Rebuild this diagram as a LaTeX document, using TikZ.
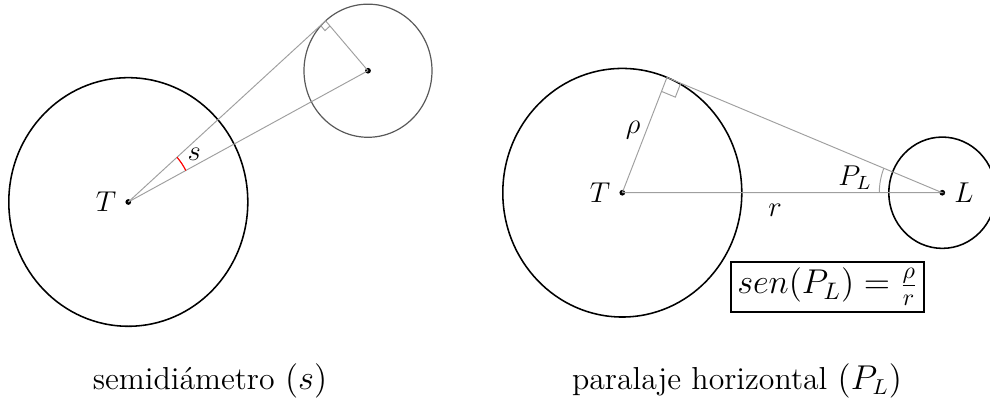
\documentclass[tikz,border=0pt]{standalone}
\usepackage{amsmath,amssymb}
\usetikzlibrary{calc,positioning}

\begin{document}
\begin{tikzpicture}[x=1.47cm,y=1.529cm,line width=.5pt,
  aux/.style={gray!75,line width=.4pt},
  body/.style={line width=.65pt},
  dot/.style={circle,fill,inner sep=0pt,minimum size=2.4pt},
  lab/.style={font=\large},
  caption/.style={anchor=base,font=\fontsize{13.3}{16}\selectfont}]
\clip (0,0) rectangle (9.9,3.846);
% Semidiámetro : la Tierra, el astro lejano y la tangente trazada desde T.
\node[dot] (T1) at (1.283,1.904) {};
\node[dot] (M) at (3.68,3.166) {};
\draw[body] (T1) circle (1.195);
\draw[gray!70!black,line width=.5pt] (M) circle (.64);
\coordinate (A) at ($(T1)+(41.44:2.632)$);
\draw[aux] (T1.center) -- (M.center);
\draw[aux] (T1.center) -- (A) -- (M.center);
\coordinate (A1) at ($(A)!.1cm!(T1)$);
\coordinate (A2) at ($(A)!.1cm!(M)$);
\draw[aux] (A1) -- ($(A1)+(A2)-(A)$) -- (A2);
\draw[red] ($(T1)+(27.77:.65)$) arc[start angle=27.77,end angle=41.44,radius=.65];
\node[lab] (s) at ($(T1)+(34.6:.8)$) {$s$};
\node[lab,left=0pt of T1] (T1lab) {$T$};
\node[caption] (cap1) at (2.10,.106) {semidiámetro $(s)$};
% Paralaje horizontal : tangente desde L al disco terrestre.
\node[dot] (T2) at (6.223,1.993) {};
\node[dot] (L) at (9.423,1.993) {};
\draw[body] (T2) circle (1.195);
\draw[body] (L) circle (.535);
\coordinate (B) at ($(T2)+(68.07:1.195)$);
\draw[aux] (T2.center) -- (B) -- (L.center) -- (T2.center);
\coordinate (B1) at ($(B)!.22cm!(T2)$);
\coordinate (B2) at ($(B)!.22cm!(L)$);
\draw[aux] (B1) -- ($(B1)+(B2)-(B)$) -- (B2);
\draw[aux] ($(L)+(158.07:.63)$) arc[start angle=158.07,end angle=180,radius=.63];
\node[lab] (PL) at ($(L)+(-.873,.144)$) {$P_L$};
\node[lab,right=0pt of L] (Llab) {$L$};
\node[lab,left=0pt of T2] (T2lab) {$T$};
\node[lab] (rho) at (6.33,2.596) {$\rho$};
\node[lab] (r) at (7.75,1.827) {$r$};
\node[draw,line width=1pt,inner sep=2.5pt] (form) at (8.275,1.087) {\Large$sen(P_L)=\frac{\rho}{r}$};
\node[caption] (cap2) at (7.37,.106) {paralaje horizontal $(P_L)$};
\end{tikzpicture}
\end{document}
